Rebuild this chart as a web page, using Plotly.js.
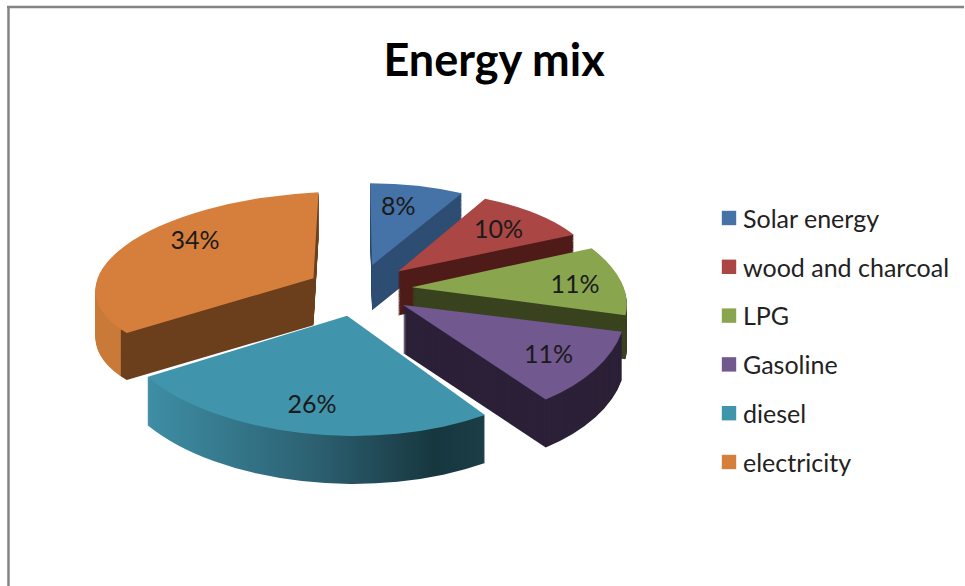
<!DOCTYPE html>
<html>
<head>
<meta charset="utf-8">
<script src="https://cdn.plot.ly/plotly-3.0.1.min.js"></script>
<style>html,body{margin:0;padding:0;background:#fff}#chart{width:965px;height:586px}</style>
</head>
<body>
<div id="chart"></div>
<script>
const labels = ["Solar energy","wood and charcoal","LPG","Gasoline","diesel","electricity"];
const values = [8,10,11,11,26,34];
const pulls = [0.18,0.25,0.28,0.28,0.14,0.17];
const topColors = ["#4572A7","#AA4643","#89A54E","#71588F","#4095AD","#D67F3C"];
const wallColors = ["#2E4D73","#4F1C1A","#3A431F","#2C2138","#2A6575","#6B3E1C"];

// perspective look: each slice's own radii, shears, depth and small shift
const sliceRx = [190,199,213,222,236,218];
const sliceRy = [82,82,99,119,120,86];
const sliceShearY = [0,-2,3.5,-3,3.7,-10.5];
const sliceShearX = [2,10,30,15,-1,-5];
const sliceDepth = [45,44,44,48,48,47];
const sliceShiftX = [12,7,-1,1,3,-3];
const sliceShiftY = [-1,5,5,3,16,2];
const textShiftX = [-10,-5,7,2,-9,-18];
const textShiftY = [3,1,0,0,19,-22];

const LAYERS = 48;
const CENTER_X = 350, CENTER_Y = 285, RX = 225, RY = 108;
const LEGEND_X = 714, LEGEND_Y = 218, LEGEND_GAP = 48.8;
const FONT = 'Lato, Open Sans, sans-serif';

const base = {
  type:'pie', labels:labels, values:values, sort:false, direction:'clockwise', rotation:0,
  pull:pulls, domain:{x:[0,1],y:[0,1]}, hoverinfo:'none'
};
const traces = [];
for (let d = LAYERS; d > 0; d--) {
  traces.push(Object.assign({}, base, {
    marker:{colors:wallColors, line:{width:0}}, textinfo:'none', showlegend:false
  }));
}
traces.push(Object.assign({}, base, {
  marker:{colors:topColors, line:{width:0}}, textinfo:'percent', textposition:'inside',
  insidetextorientation:'horizontal',
  insidetextfont:{family:FONT, size:25, color:'#1a1a1a'},
  showlegend:true
}));

const layout = {
  width:965, height:586, margin:{l:0,r:0,t:0,b:0},
  paper_bgcolor:'#fff',
  title:{text:'<b>Energy mix</b>', font:{family:FONT, size:45, color:'#000'},
         x:0.512, xanchor:'center', y:0.898, yanchor:'middle'},
  legend:{x:0.74, xanchor:'left', y:0.655, yanchor:'top', itemwidth:30,
          font:{family:FONT, size:25, color:'#222'},
          bgcolor:'rgba(0,0,0,0)', itemclick:false, itemdoubleclick:false},
  shapes:[
    {type:'line', xref:'paper', yref:'paper', x0:8.5/965, x1:8.5/965, y0:0, y1:1-7/586, line:{color:'#848484', width:2.5}},
    {type:'line', xref:'paper', yref:'paper', x0:7/965, x1:1, y0:1-7/586, y1:1-7/586, line:{color:'#848484', width:2.5}}
  ]
};

function addGradient(defs, id, stops) {
  const NS = 'http://www.w3.org/2000/svg';
  const g = document.createElementNS(NS,'linearGradient');
  g.setAttribute('id',id);
  stops.forEach(([o,c]) => {
    const s = document.createElementNS(NS,'stop');
    s.setAttribute('offset',o); s.setAttribute('stop-color',c); g.appendChild(s);
  });
  defs.appendChild(g);
}

Plotly.newPlot('chart', traces, layout, {displayModeBar:false}).then(gd => {
  const svg = gd.querySelector('svg.main-svg');
  const defs = svg.querySelector('defs');
  addGradient(defs,'dieselWall',[[0,'#3E8EA5'],[0.5,'#2C6071'],[0.85,'#17373F'],[1,'#1B3D46']]);
  addGradient(defs,'elecWall',[[0,'#C97A38'],[0.125,'#C97A38'],[0.13,'#6B3E1C'],[1,'#6B3E1C']]);

  const groups = Array.from(gd.querySelectorAll('.pielayer > .trace'));
  const n = groups.length;
  groups.forEach((tr,i) => {
    const cd = gd.calcdata[i];
    const cd0 = cd[0];
    const r = cd0.r;
    const lift = (n-1-i)/LAYERS;
    tr.querySelectorAll('.slice').forEach((sl,j) => {
      const pt = cd[j];
      const ax = CENTER_X + (pt.cxFinal-cd0.cx)*RX/r + sliceShiftX[j];
      const ay = CENTER_Y + (pt.cyFinal-cd0.cy)*RY/r + sliceShiftY[j] + lift*sliceDepth[j];
      const a = sliceRx[j]/r, b = sliceShearY[j]/r, c = sliceShearX[j]/r, d = sliceRy[j]/r;
      sl.setAttribute('transform',`matrix(${a},${b},${c},${d},${ax},${ay}) translate(${-pt.cxFinal},${-pt.cyFinal})`);
      if (i < n-1) {
        if (j === 4) sl.querySelector('path.surface').style.fill = 'url(#dieselWall)';
        if (j === 5) sl.querySelector('path.surface').style.fill = 'url(#elecWall)';
      } else {
        const t = sl.querySelector('.slicetext text');
        if (t) {
          const bb = t.getBBox();
          const cx = bb.x+bb.width/2, cy = bb.y+bb.height/2;
          const o = t.getAttribute('transform') || '';
          const det = a*d-b*c;
          const ia = d/det, ib = -b/det, ic = -c/det, id = a/det;
          const lx = ia*textShiftX[j]+ic*textShiftY[j];
          const ly = ib*textShiftX[j]+id*textShiftY[j];
          t.setAttribute('transform',`translate(${lx},${ly}) ${o} translate(${cx},${cy}) matrix(${ia},${ib},${ic},${id},0,0) translate(${-cx},${-cy})`);
        }
      }
    });
  });
  const lg = gd.querySelector('.legend');
  lg.setAttribute('transform',`translate(${LEGEND_X},${LEGEND_Y})`);
  const sb = gd.querySelector('.legend .scrollbox');
  if (sb) sb.removeAttribute('clip-path');
  gd.querySelectorAll('.legend .groups .traces').forEach((t,i) => {
    t.setAttribute('transform',`translate(0,${i*LEGEND_GAP})`);
    const tx = t.querySelector('.legendtext');
    if (tx) tx.setAttribute('x', 29);
    const bg = t.querySelector('.legendtoggle');
    if (bg) bg.remove();
  });
  gd.querySelectorAll('.legend .legendpoints path').forEach(p => {
    p.setAttribute('transform','translate(15,0) scale(1.2)');
  });
});
</script>
</body>
</html>
